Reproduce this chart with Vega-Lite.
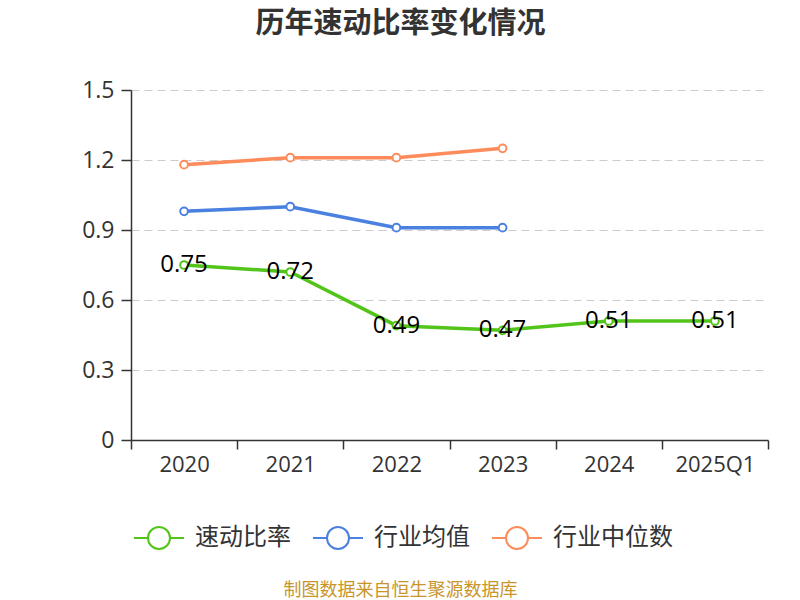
{
  "$schema": "https://vega.github.io/schema/vega-lite/v6.json",
  "autosize": {"type": "none"},
  "width": 637,
  "height": 350,
  "padding": {"left": 131, "top": 90, "right": 32, "bottom": 160},
  "background": "white",
  "config": {
    "view": {"stroke": null},
    "font": "Open Sans, Noto Sans CJK SC, sans-serif"
  },
  "title": {
    "text": "历年速动比率变化情况",
    "font": "Noto Sans CJK SC",
    "fontSize": 29,
    "fontWeight": "bold",
    "color": "#333333",
    "anchor": "middle",
    "dx": -49,
    "offset": 40
  },
  "data": {
    "values": [
      {"year": "2020", "series": "速动比率", "value": 0.75},
      {"year": "2021", "series": "速动比率", "value": 0.72},
      {"year": "2022", "series": "速动比率", "value": 0.49},
      {"year": "2023", "series": "速动比率", "value": 0.47},
      {"year": "2024", "series": "速动比率", "value": 0.51},
      {"year": "2025Q1", "series": "速动比率", "value": 0.51},
      {"year": "2020", "series": "行业均值", "value": 0.98},
      {"year": "2021", "series": "行业均值", "value": 1.0},
      {"year": "2022", "series": "行业均值", "value": 0.91},
      {"year": "2023", "series": "行业均值", "value": 0.91},
      {"year": "2020", "series": "行业中位数", "value": 1.18},
      {"year": "2021", "series": "行业中位数", "value": 1.21},
      {"year": "2022", "series": "行业中位数", "value": 1.21},
      {"year": "2023", "series": "行业中位数", "value": 1.25}
    ]
  },
  "encoding": {
    "x": {
      "field": "year",
      "type": "ordinal",
      "sort": null,
      "scale": {"type": "band", "paddingInner": 0, "paddingOuter": 0},
      "axis": {
        "title": "制图数据来自恒生聚源数据库",
        "titleFont": "Noto Sans CJK SC",
        "titleFontSize": 18,
        "titleFontWeight": "normal",
        "titleColor": "#c8952c",
        "titleX": 269,
        "titleY": 150,
        "titleAlign": "center",
        "titleBaseline": "middle",
        "labelAngle": 0,
        "labelFontSize": 22,
        "labelColor": "#333333",
        "labelPadding": 5,
        "tickBand": "extent",
        "tickSize": 9,
        "tickWidth": 1.5,
        "tickColor": "#333333",
        "domainColor": "#333333",
        "domainWidth": 1.5,
        "grid": false
      }
    },
    "y": {
      "field": "value",
      "type": "quantitative",
      "scale": {"domain": [0, 1.5]},
      "axis": {
        "title": null,
        "values": [0, 0.3, 0.6, 0.9, 1.2, 1.5],
        "format": ".1~f",
        "labelFontSize": 23,
        "labelColor": "#333333",
        "labelPadding": 7,
        "tickSize": 10,
        "tickWidth": 1.5,
        "tickColor": "#333333",
        "domainColor": "#333333",
        "domainWidth": 1.5,
        "grid": true,
        "gridColor": "#cccccc",
        "gridDash": [8, 5],
        "gridWidth": 1.2
      }
    },
    "color": {
      "field": "series",
      "type": "nominal",
      "sort": ["速动比率", "行业均值", "行业中位数"],
      "scale": {
        "domain": ["速动比率", "行业均值", "行业中位数"],
        "range": ["#52c41a", "#4a80e0", "#fd8c5a"]
      },
      "legend": {
        "title": null,
        "orient": "none",
        "direction": "horizontal",
        "legendX": 2,
        "legendY": 422,
        "labelFont": "Noto Sans CJK SC",
        "labelFontSize": 24,
        "labelColor": "#333333",
        "labelOffset": 10,
        "columnPadding": 18,
        "symbolType": "M-1,0 L-0.44,0 M0.44,0 L1,0 M-0.44,0 A0.44,0.44 0 1,1 0.44,0 A0.44,0.44 0 1,1 -0.44,0 Z",
        "symbolSize": 2500,
        "symbolStrokeWidth": 2,
        "symbolFillColor": "white",
        "encode": {
          "symbols": {
            "update": {
              "shape": {"value": "M-1,0 L-0.44,0 M0.44,0 L1,0 M-0.44,0 A0.44,0.44 0 1,1 0.44,0 A0.44,0.44 0 1,1 -0.44,0 Z"},
              "fill": {"value": "white"},
              "size": {"value": 2500},
              "strokeWidth": {"value": 2},
              "opacity": {"value": 1}
            }
          }
        }
      }
    }
  },
  "layer": [
    {
      "mark": {"type": "line", "strokeWidth": 3.5},
      "encoding": {"detail": {"field": "series"}}
    },
    {
      "mark": {"type": "point", "shape": "circle", "filled": false, "fill": "white", "fillOpacity": 1, "size": 60, "strokeWidth": 2, "opacity": 1}
    },
    {
      "transform": [{"filter": "datum.series === '速动比率'"}],
      "mark": {"type": "text", "fontSize": 24, "baseline": "middle", "align": "center"},
      "encoding": {
        "text": {"field": "value", "type": "quantitative", "format": ".2f"},
        "color": {"value": "#000000"}
      }
    }
  ]
}
